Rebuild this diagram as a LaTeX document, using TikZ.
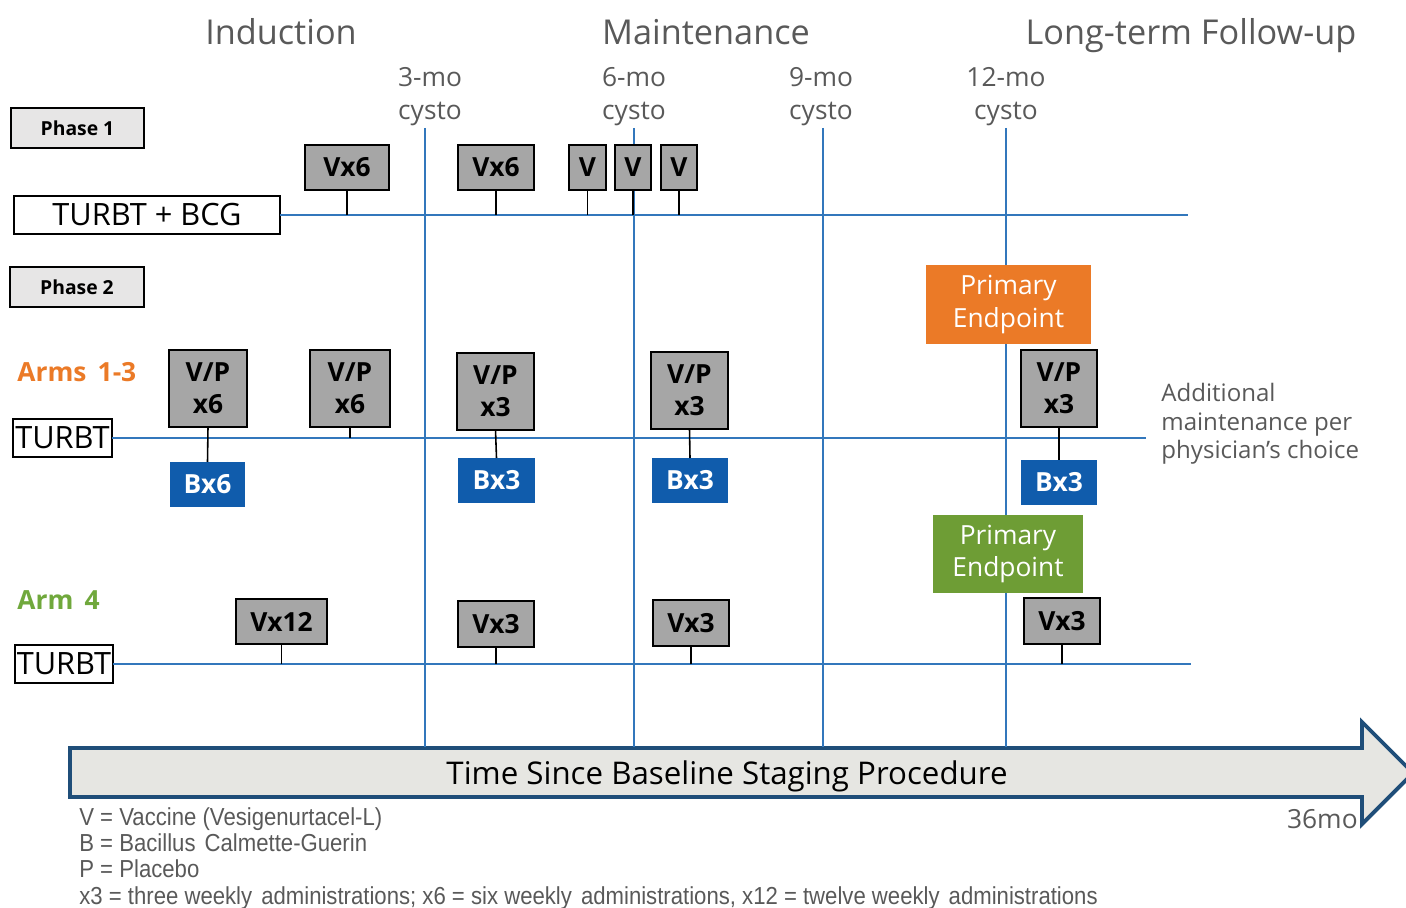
\documentclass[tikz,border=0pt]{standalone}
\usepackage{fontspec}
\setmainfont{Open Sans}
\newfontfamily\notefont[FakeStretch=0.9]{Liberation Sans}
\definecolor{txtgray}{HTML}{595959}
\definecolor{lineblue}{HTML}{3277BC}
\definecolor{boxgray}{HTML}{A6A6A6}
\definecolor{phasefill}{HTML}{E7E6E6}
\definecolor{bcgblue}{HTML}{105CAC}
\definecolor{endorange}{HTML}{EB7A27}
\definecolor{endgreen}{HTML}{6E9D35}
\definecolor{armgreen}{HTML}{70A83C}
\definecolor{arrowfill}{HTML}{E6E6E2}
\definecolor{arrowedge}{HTML}{1F4E79}
\tikzset{
  bl/.style={draw=lineblue, line width=1.2pt},
  stem/.style={draw=black, line width=0.9pt},
  base/.style={inner sep=0pt, outer sep=0pt, align=center},
  graybox/.style={base, draw=black, line width=0.9pt, fill=boxgray,
    font=\bfseries\fontsize{15}{18}\selectfont},
  phasebox/.style={base, draw=black, line width=0.8pt, fill=phasefill,
    font=\bfseries\fontsize{11}{13}\selectfont},
  whitebox/.style={base, draw=black, line width=0.8pt, fill=white,
    font=\fontsize{17.5}{20}\selectfont},
  bcgbox/.style={base, fill=bcgblue, text=white,
    font=\bfseries\fontsize{15}{18}\selectfont},
  endbox/.style={base, text=white, font=\fontsize{15}{18.7}\selectfont},
  header/.style={text=txtgray, anchor=base, inner sep=0pt,
    font=\fontsize{19.5}{22}\selectfont},
  month/.style={text=txtgray, align=center, inner sep=0pt,
    font=\fontsize{15}{18.7}\selectfont},
  armlabel/.style={anchor=west, inner sep=0pt, font=\bfseries\fontsize{15}{18}\selectfont},
}
% box from its corners in pixel units: name, x1, y1, x2, y2, style, text
\newcommand\pbox[7]{\node[#6, minimum width={(#4-#2)*0.02cm},
  minimum height={(#5-#3)*0.02cm}] (#1) at ({(#2+#4)/2},{(#3+#5)/2}) {#7};}
\newcommand\gap{\hspace{0.12em}}
\begin{document}
\begin{tikzpicture}[x=0.02cm, y=-0.02cm]
\useasboundingbox (0,0) rectangle (1406,908);

% headers
\node[header] (hind) at (281,45) {Induction};
\node[header] (hmain) at (706,45) {Maintenance};
\node[header] (hltf) at (1191,45) {Long-term Follow-up};

% cystoscopy time points
\node[month] (m3) at (430,97) {3-mo\\cysto};
\node[month] (m6) at (634,97) {6-mo\\cysto};
\node[month] (m9) at (821,97) {9-mo\\cysto};
\node[month] (m12) at (1006,97) {12-mo\\cysto};

% time arrow
\draw[fill=arrowfill, draw=arrowedge, line width=2.2pt, line join=miter]
  (70,748) -- (1362,748) -- (1362,722) -- (1413,773) -- (1362,824)
  -- (1362,797) -- (70,797) -- cycle;
\node[font=\fontsize{17.8}{20}\selectfont] (tlabel) at (727,776)
  {Time Since Baseline Staging Procedure};
\node[text=txtgray, font=\fontsize{15}{18}\selectfont, anchor=east, inner sep=0pt]
  (t36) at (1358,819) {36mo};

% vertical cysto lines
\coordinate (v3t) at (425,128);  \coordinate (v3b) at (425,747);
\coordinate (v6t) at (634,128);  \coordinate (v6b) at (634,747);
\coordinate (v9t) at (823,128);  \coordinate (v9b) at (823,747);
\coordinate (v12t) at (1006,128); \coordinate (v12b) at (1006,747);
\draw[bl] (v3t) -- (v3b);
\draw[bl] (v6t) -- (v6b);
\draw[bl] (v9t) -- (v9b);
\draw[bl] (v12t) -- (v12b);

% ---------- Phase 1 ----------
\pbox{ph1}{11}{108}{144}{148}{phasebox}{Phase 1}
\pbox{tb}{14}{196}{280}{234}{whitebox}{TURBT + BCG}
\coordinate (p1end) at (1188,215);
\draw[bl] (tb.east) -- (p1end);

\pbox{a1}{305}{145}{389}{190}{graybox}{Vx6}
\pbox{a2}{458}{145}{534}{190}{graybox}{Vx6}
\pbox{a3}{569}{145}{606}{190}{graybox}{V}
\pbox{a4}{615}{145}{651}{190}{graybox}{V}
\pbox{a5}{661}{145}{697}{190}{graybox}{V}
\foreach \n in {a1,a2,a3,a4,a5}
  \draw[stem] (\n.south) -- (\n.south |- p1end);

% ---------- Phase 2 ----------
\pbox{ph2}{10}{267}{144}{307}{phasebox}{Phase 2}

% Arms 1-3
\node[armlabel, text=endorange] (arm13) at (17,372) {Arms\, 1-3};
\pbox{tr1}{13}{419}{112}{457}{whitebox}{TURBT}
\coordinate (r1end) at (1146,438);
\draw[bl] (tr1.east) -- (r1end);

\pbox{pe1}{926}{265}{1091}{344}{endbox, fill=endorange}{Primary\\Endpoint}

\pbox{b1}{169}{350}{247}{427}{graybox}{V/P\\x6}
\pbox{b2}{310}{350}{390}{427}{graybox}{V/P\\x6}
\pbox{b3}{457}{353}{534}{430}{graybox}{V/P\\x3}
\pbox{b4}{651}{352}{728}{429}{graybox}{V/P\\x3}
\pbox{b5}{1021}{350}{1097}{427}{graybox}{V/P\\x3}

\pbox{c1}{170}{462}{245}{507}{bcgbox}{Bx6}
\pbox{c3}{458}{458}{535}{503}{bcgbox}{Bx3}
\pbox{c4}{652}{458}{728}{503}{bcgbox}{Bx3}
\pbox{c5}{1021}{460}{1097}{505}{bcgbox}{Bx3}

\draw[stem] (b2.south) -- (b2.south |- r1end);
\draw[stem] (b1.south) -- (c1.north);
\draw[stem] (b3.south) -- (c3.north);
\draw[stem] (b4.south) -- (c4.north);
\draw[stem] (b5.south) -- (c5.north);

\node[text=txtgray, anchor=west, align=left, inner sep=0pt,
  font=\fontsize{13.7}{16.2}\selectfont] (addl) at (1161,424)
  {Additional\\maintenance per\\physician’s choice};

% Arm 4
\node[armlabel, text=armgreen] (arm4) at (17,600) {Arm\, 4};
\pbox{tr4}{15}{645}{113}{683}{whitebox}{TURBT}
\coordinate (r4end) at (1191,664);
\draw[bl] (tr4.east) -- (r4end);

\pbox{pe2}{933}{515}{1083}{593}{endbox, fill=endgreen}{Primary\\Endpoint}

\pbox{d1}{236}{599}{327}{644}{graybox}{Vx12}
\pbox{d2}{458}{601}{534}{647}{graybox}{Vx3}
\pbox{d3}{653}{600}{729}{646}{graybox}{Vx3}
\pbox{d4}{1024}{598}{1100}{644}{graybox}{Vx3}
\foreach \n in {d1,d2,d3,d4}
  \draw[stem] (\n.south) -- (\n.south |- r4end);

% legend
\node[anchor=north west, align=left, inner sep=0pt, text=txtgray,
  font=\notefont\fontsize{14}{15}\selectfont] (legend) at (79,807)
  {V = Vaccine (Vesigenurtacel-L)\\
   B = Bacillus \gap Calmette-Guerin\\
   P = Placebo\\
   x3 = three weekly \gap administrations; x6 = six weekly \gap administrations, x12 = twelve weekly \gap administrations};
\end{tikzpicture}
\end{document}
